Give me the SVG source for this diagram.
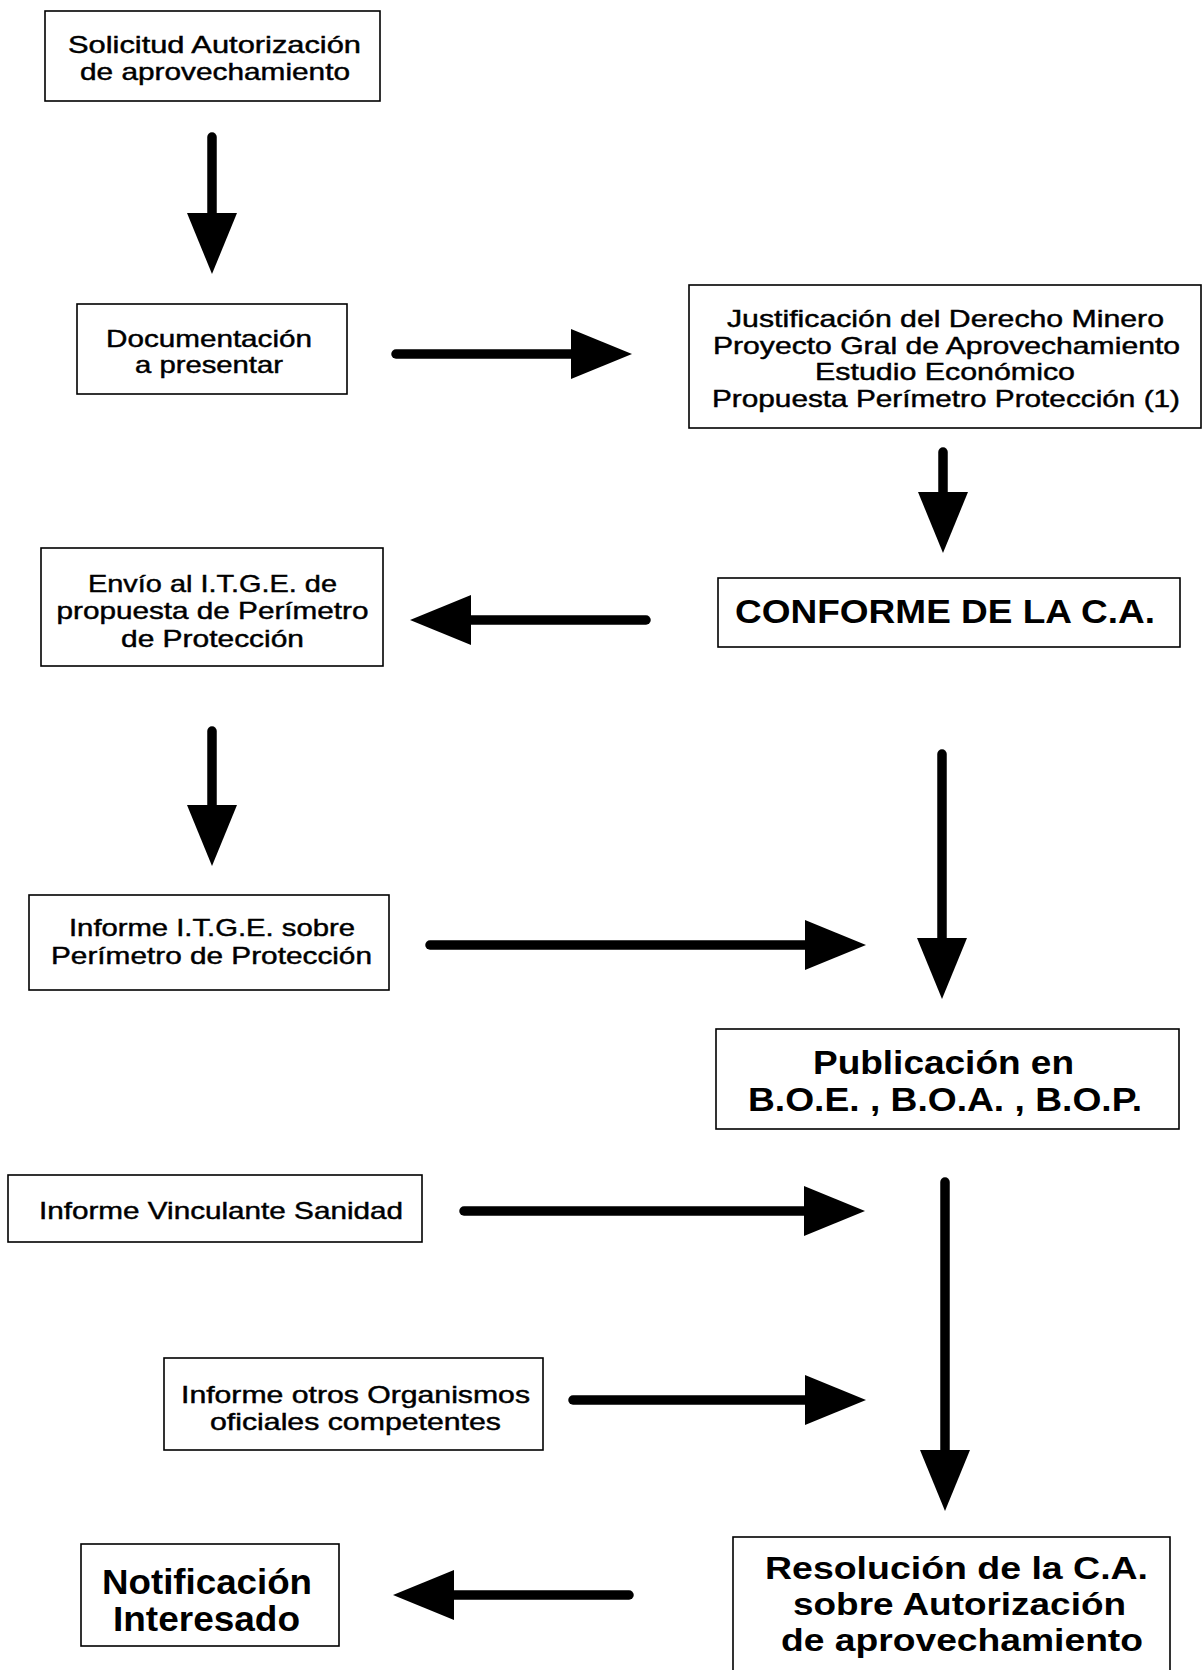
<svg xmlns="http://www.w3.org/2000/svg" width="1204" height="1670" viewBox="0 0 1204 1670">
<style>
.box{fill:#fff;stroke:#000;stroke-width:1.6}
.t{font-family:"Liberation Sans",Arial,Helvetica,sans-serif;font-size:24px;fill:#000;stroke:#000;stroke-width:0.45;text-anchor:middle}
.b{font-family:"Liberation Sans",Arial,Helvetica,sans-serif;font-weight:bold;fill:#000;text-anchor:middle}
.sh{stroke:#000;stroke-width:9.5;stroke-linecap:round;fill:none;marker-end:url(#ah)}
</style>
<defs>
<marker id="ah" markerUnits="userSpaceOnUse" markerWidth="61" markerHeight="50" viewBox="0 0 61 50" refX="1" refY="25" orient="auto">
<path d="M0,0 L61,25 L0,50 Z" fill="#000"/>
</marker>
</defs>
<rect x="0" y="0" width="1204" height="1670" fill="#fff"/>

<g id="connectors">
<line class="sh" x1="212" y1="137" x2="212" y2="214"/>
<line class="sh" x1="396" y1="354" x2="572" y2="354"/>
<line class="sh" x1="943" y1="452" x2="943" y2="493"/>
<line class="sh" x1="646" y1="620" x2="470" y2="620"/>
<line class="sh" x1="212" y1="731" x2="212" y2="806"/>
<line class="sh" x1="430" y1="945" x2="806" y2="945"/>
<line class="sh" x1="942" y1="754" x2="942" y2="939"/>
<line class="sh" x1="464" y1="1211" x2="805" y2="1211"/>
<line class="sh" x1="573" y1="1400" x2="806" y2="1400"/>
<line class="sh" x1="945" y1="1182" x2="945" y2="1451"/>
<line class="sh" x1="629" y1="1595" x2="453" y2="1595"/>
</g>

<g id="n1">
<rect class="box" x="45" y="11" width="335" height="90"/>
<text class="t" x="214.5" y="53" textLength="293" lengthAdjust="spacingAndGlyphs">Solicitud Autorización</text>
<text class="t" x="215" y="80" textLength="270" lengthAdjust="spacingAndGlyphs">de aprovechamiento</text>
</g>

<g id="n2">
<rect class="box" x="77" y="304" width="270" height="90"/>
<text class="t" x="209" y="347" textLength="206" lengthAdjust="spacingAndGlyphs">Documentación</text>
<text class="t" x="209" y="373" textLength="148" lengthAdjust="spacingAndGlyphs">a presentar</text>
</g>

<g id="n3">
<rect class="box" x="689" y="285" width="512" height="143"/>
<text class="t" x="945.5" y="327" textLength="437" lengthAdjust="spacingAndGlyphs">Justificación del Derecho Minero</text>
<text class="t" x="946.5" y="354" textLength="467" lengthAdjust="spacingAndGlyphs">Proyecto Gral de Aprovechamiento</text>
<text class="t" x="945" y="380" textLength="260" lengthAdjust="spacingAndGlyphs">Estudio Económico</text>
<text class="t" x="946" y="407" textLength="468" lengthAdjust="spacingAndGlyphs">Propuesta Perímetro Protección (1)</text>
</g>

<g id="n4">
<rect class="box" x="718" y="578" width="462" height="69"/>
<text class="b" x="945" y="623" font-size="33" textLength="420" lengthAdjust="spacingAndGlyphs">CONFORME DE LA C.A.</text>
</g>

<g id="n5">
<rect class="box" x="41" y="548" width="342" height="118"/>
<text class="t" x="212.5" y="592" textLength="249" lengthAdjust="spacingAndGlyphs">Envío al I.T.G.E. de</text>
<text class="t" x="212.5" y="619" textLength="312" lengthAdjust="spacingAndGlyphs">propuesta de Perímetro</text>
<text class="t" x="212.5" y="647" textLength="183" lengthAdjust="spacingAndGlyphs">de Protección</text>
</g>

<g id="n6">
<rect class="box" x="29" y="895" width="360" height="95"/>
<text class="t" x="212" y="936" textLength="286" lengthAdjust="spacingAndGlyphs">Informe I.T.G.E. sobre</text>
<text class="t" x="211.5" y="964" textLength="321" lengthAdjust="spacingAndGlyphs">Perímetro de Protección</text>
</g>

<g id="n7">
<rect class="box" x="716" y="1029" width="463" height="100"/>
<text class="b" x="943.5" y="1074" font-size="33" textLength="261" lengthAdjust="spacingAndGlyphs">Publicación en</text>
<text class="b" x="945" y="1111" font-size="33" textLength="394" lengthAdjust="spacingAndGlyphs">B.O.E. , B.O.A. , B.O.P.</text>
</g>

<g id="n8">
<rect class="box" x="8" y="1175" width="414" height="67"/>
<text class="t" x="221" y="1219" textLength="364" lengthAdjust="spacingAndGlyphs">Informe Vinculante Sanidad</text>
</g>

<g id="n9">
<rect class="box" x="164" y="1358" width="379" height="92"/>
<text class="t" x="355.5" y="1403" textLength="349" lengthAdjust="spacingAndGlyphs">Informe otros Organismos</text>
<text class="t" x="355.5" y="1430" textLength="291" lengthAdjust="spacingAndGlyphs">oficiales competentes</text>
</g>

<g id="n10">
<rect class="box" x="81" y="1544" width="258" height="102"/>
<text class="b" x="207" y="1594" font-size="35" textLength="210" lengthAdjust="spacingAndGlyphs">Notificación</text>
<text class="b" x="206.5" y="1631" font-size="35" textLength="187" lengthAdjust="spacingAndGlyphs">Interesado</text>
</g>

<g id="n11">
<rect class="box" x="733" y="1537" width="437" height="160"/>
<text class="b" x="956.5" y="1579" font-size="32" textLength="383" lengthAdjust="spacingAndGlyphs">Resolución de la C.A.</text>
<text class="b" x="959.5" y="1615" font-size="32" textLength="333" lengthAdjust="spacingAndGlyphs">sobre Autorización</text>
<text class="b" x="962" y="1651" font-size="32" textLength="362" lengthAdjust="spacingAndGlyphs">de aprovechamiento</text>
</g>
</svg>
